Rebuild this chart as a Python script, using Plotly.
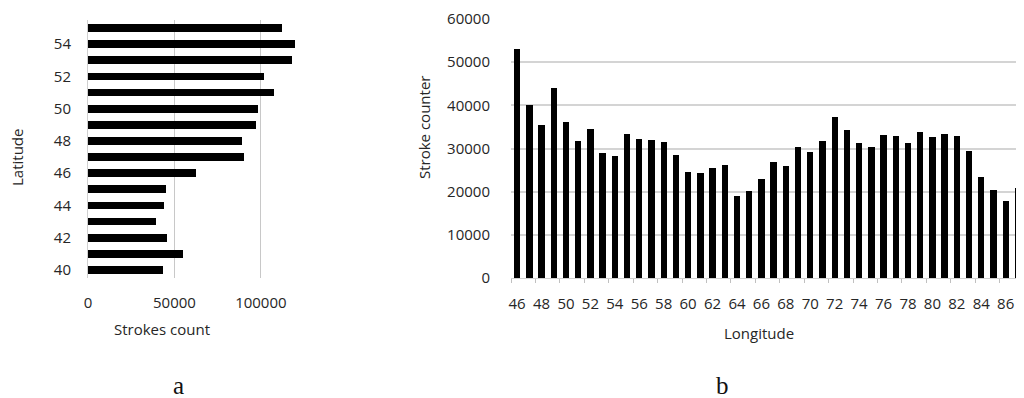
import plotly.graph_objects as go

# Panel a: strokes count by latitude
latitudes = list(range(40, 56))
lat_counts = [43200, 55100, 45700, 39300, 44200, 44900, 62200, 90300,
              89300, 97100, 98400, 107600, 101900, 118000, 119800, 112200]
lat_ticks = [40, 42, 44, 46, 48, 50, 52, 54]
count_ticks = [0, 50000, 100000]

# Panel b: stroke counter by longitude
longitudes = list(range(46, 88))
lon_counts = [53000, 40100, 35400, 44000, 36100, 31700, 34500, 29000, 28300, 33400,
              32200, 32000, 31500, 28500, 24600, 24300, 25500, 26200, 19000, 20200,
              23000, 26900, 26000, 30400, 29200, 31700, 37300, 34300, 31300, 30400,
              33100, 32900, 31300, 33800, 32700, 33400, 32900, 29400, 23400, 20400,
              17800, 20800]
lon_ticks = list(range(46, 88, 2))
stroke_ticks = [0, 10000, 20000, 30000, 40000, 50000, 60000]

W, H = 1024, 398
OFF = 8  # page body margin offset
FONT = "Open Sans"
TXT = "#262626"

def px(x):
    return (x - OFF) / W

def py(y):
    return 1 - (y - OFF) / H

fig = go.Figure()
fig.add_trace(go.Bar(y=latitudes, x=lat_counts, orientation="h", width=0.48,
                     marker=dict(color="black", line_width=0),
                     xaxis="x", yaxis="y", showlegend=False))
fig.add_trace(go.Bar(x=longitudes, y=lon_counts, width=0.52,
                     marker=dict(color="black", line_width=0),
                     xaxis="x2", yaxis="y2", showlegend=False))

tickfont = dict(family=FONT, size=15, color=TXT)

fig.update_layout(
    width=W, height=H,
    margin=dict(l=0, r=0, t=0, b=0, autoexpand=False),
    paper_bgcolor="white", plot_bgcolor="white",
    bargap=0,
    xaxis=dict(domain=[px(88), px(330)], range=[0, 140000], anchor="y",
               automargin=False,
               tickmode="array", tickvals=count_ticks, tickformat="d",
               showgrid=True, gridcolor="#c8c8c8", gridwidth=1,
               zeroline=False, showline=False, ticks="",
               tickfont=tickfont, ticklabelstandoff=14),
    yaxis=dict(domain=[py(278), py(20)], range=[39.5, 55.5], anchor="x",
               automargin=False,
               tickmode="array", tickvals=lat_ticks,
               showgrid=False, zeroline=False,
               showline=True, linecolor="#d0d0d0", linewidth=1, ticks="",
               tickfont=tickfont, ticklabelstandoff=13),
    xaxis2=dict(domain=[px(511), px(1024)], range=[45.5, 87.5], anchor="y2",
                automargin=False,
                tickmode="array", tickvals=lon_ticks,
                showgrid=False, zeroline=False,
                showline=True, linecolor="#d0d0d0", linewidth=1, ticks="",
                minor=dict(tickmode="linear", tick0=45.5, dtick=2,
                           ticks="outside", ticklen=4, tickcolor="#c0c0c0",
                           tickwidth=1, showgrid=False),
                tickfont=tickfont, ticklabelstandoff=12),
    yaxis2=dict(domain=[py(278), py(19)], range=[0, 60000], anchor="x2",
                automargin=False,
                tickmode="array", tickvals=stroke_ticks, tickformat="d",
                showgrid=True, gridcolor="#d4d4d4", gridwidth=1.5,
                zeroline=False, showline=False, ticks="",
                tickfont=tickfont, ticklabelstandoff=20),
)

ann_font = dict(family=FONT, size=15, color=TXT)
fig.add_annotation(text="Latitude", x=px(17), y=py(158), xref="paper", yref="paper",
                   textangle=-90, showarrow=False, font=ann_font,
                   xanchor="center", yanchor="middle", borderpad=0)
fig.add_annotation(text="Strokes count", x=px(162), y=py(329), xref="paper", yref="paper",
                   showarrow=False, font=ann_font, xanchor="center", yanchor="middle")
fig.add_annotation(text="Stroke counter", x=px(424), y=py(128), xref="paper", yref="paper",
                   textangle=-90, showarrow=False, font=ann_font,
                   xanchor="center", yanchor="middle")
fig.add_annotation(text="Longitude", x=px(759), y=py(333), xref="paper", yref="paper",
                   showarrow=False, font=ann_font, xanchor="center", yanchor="middle")
serif = dict(family="Liberation Serif", size=25, color="#111111")
fig.add_annotation(text="a", x=px(178), y=py(385), xref="paper", yref="paper",
                   showarrow=False, font=serif, xanchor="center", yanchor="middle")
fig.add_annotation(text="b", x=px(722), y=py(385), xref="paper", yref="paper",
                   showarrow=False, font=serif, xanchor="center", yanchor="middle")

fig.write_html("out.html")
